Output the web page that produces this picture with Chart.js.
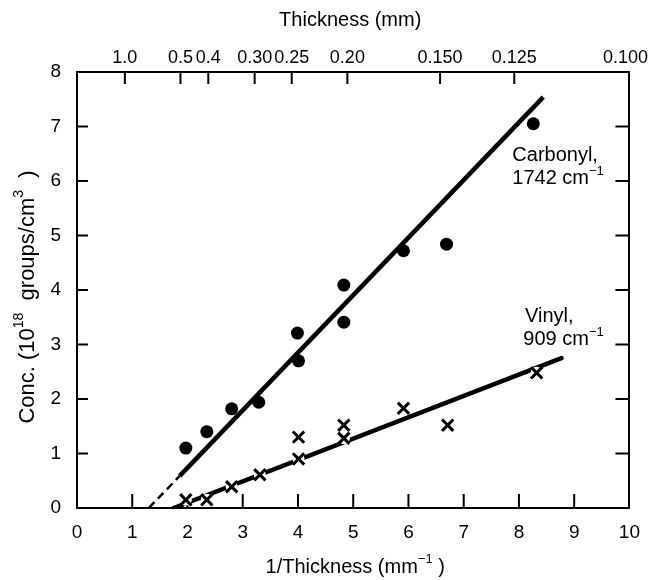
<!DOCTYPE html>
<html>
<head>
<meta charset="utf-8">
<script src="https://cdn.jsdelivr.net/npm/chart.js@4.4.1/dist/chart.umd.min.js"></script>
<style>
  html, body { margin: 0; padding: 0; background: #fff; }
  canvas { display: block; }
</style>
</head>
<body>
<canvas id="grafico" width="653" height="580"></canvas>
<script>
// Dados (x = 1/espessura em mm^-1, y = 10^18 grupos/cm^3)
const carbonilaX = [1.97, 2.35, 2.80, 3.29, 4.01, 3.99, 4.83, 4.83, 5.91, 6.69, 8.26];
const carbonilaY = [1.10, 1.40, 1.82, 1.94, 2.70, 3.21, 3.41, 4.09, 4.72, 4.84, 7.05];

const vinilaX = [1.97, 2.35, 2.80, 3.31, 4.01, 4.01, 4.83, 4.83, 5.91, 6.71, 8.32];
const vinilaY = [0.15, 0.15, 0.39, 0.61, 1.30, 0.90, 1.52, 1.28, 1.83, 1.52, 2.48];

// Retas ajustadas (extremos)
const carbonilaTracejadaX = [1.30, 1.86];
const carbonilaTracejadaY = [0.00, 0.59];
const carbonilaRetaX = [1.86, 8.44];
const carbonilaRetaY = [0.59, 7.54];
const vinilaRetaX = [1.75, 8.77];
const vinilaRetaY = [0.00, 2.75];

// Eixo superior: espessura (mm)
const espessuraTicks = [1.0, 0.5, 0.4, 0.30, 0.25, 0.20, 0.150, 0.125, 0.100];
const espessuraRotulos = ["1.0", "0.5", "0.4", "0.30", "0.25", "0.20", "0.150", "0.125", "0.100"];

const TINTA = "#000";
const FONTE = '"Liberation Sans", Arial, Helvetica, sans-serif';

const pontos = (xs, ys) => xs.map((x, i) => ({ x, y: ys[i] }));

// texto com sobrescritos: partes = [[texto, sobrescrito?], ...]
function textoRico(ctx, partes, x, y, tam, alinhar) {
    const larguras = partes.map(([t, sup]) => {
        ctx.font = `${sup ? Math.round(tam * 0.65) : tam}px ${FONTE}`;
        return ctx.measureText(t).width;
    });
    const total = larguras.reduce((a, b) => a + b, 0);
    let cx = alinhar === "center" ? x - total / 2 : x;
    ctx.textAlign = "left";
    ctx.textBaseline = "middle";
    partes.forEach(([t, sup], i) => {
        ctx.font = `${sup ? Math.round(tam * 0.65) : tam}px ${FONTE}`;
        ctx.fillText(t, cx, sup ? y - tam * 0.38 : y);
        cx += larguras[i];
    });
}

// marcas de escala voltadas para dentro + títulos e rótulos das curvas
const marcasInternas = {
    id: "marcasInternas",
    beforeDatasetsDraw(chart) {
        const { ctx, chartArea: a, scales } = chart;
        ctx.save();
        ctx.strokeStyle = TINTA;
        ctx.lineWidth = 2;
        ctx.beginPath();
        scales.x.ticks.forEach(t => {
            if (t.value <= 0 || t.value >= 10) return;
            const px = scales.x.getPixelForValue(t.value);
            ctx.moveTo(px, a.bottom);
            ctx.lineTo(px, a.bottom - 14);
        });
        scales.x2.ticks.forEach(t => {
            if (t.value >= 9.9) return;
            const px = scales.x2.getPixelForValue(t.value);
            ctx.moveTo(px, a.top);
            ctx.lineTo(px, a.top + 12);
        });
        scales.y.ticks.forEach(t => {
            if (t.value <= 0 || t.value >= 8) return;
            const py = scales.y.getPixelForValue(t.value);
            ctx.moveTo(a.left, py);
            ctx.lineTo(a.left + 11, py);
            ctx.moveTo(a.right, py);
            ctx.lineTo(a.right - 14, py);
        });
        ctx.stroke();
        ctx.restore();
    },
    afterDraw(chart) {
        const { ctx, chartArea: a, scales } = chart;
        const meio = (a.left + a.right) / 2;
        ctx.save();
        ctx.fillStyle = TINTA;
        textoRico(ctx, [["Thickness (mm)"]], meio - 3, 20, 20, "center");
        textoRico(ctx, [["1/Thickness (mm"], ["\u22121", true], [" )"]], meio + 2, 567, 20, "center");

        ctx.save();
        ctx.translate(28, 297);
        ctx.rotate(-Math.PI / 2);
        textoRico(ctx, [["Conc. (10"], ["18", true], ["  groups/cm"], ["3", true], ["  )"]], 0, 0, 22, "center");
        ctx.restore();

        const sx = v => scales.x.getPixelForValue(v);
        const sy = v => scales.y.getPixelForValue(v);
        textoRico(ctx, [["Carbonyl,"]], sx(7.88), sy(6.46), 20, "left");
        textoRico(ctx, [["1742 cm"], ["\u22121", true]], sx(7.88), sy(6.04), 20, "left");
        textoRico(ctx, [["Vinyl,"]], sx(8.11), sy(3.52), 20, "left");
        textoRico(ctx, [["909 cm"], ["\u22121", true]], sx(8.08), sy(3.09), 20, "left");
        ctx.restore();
    },
};

const eixoBase = {
    type: "linear",
    grid: { display: false, drawTicks: false },
    border: { display: true, color: TINTA, width: 2 },
};

new Chart(document.getElementById("grafico"), {
    type: "scatter",
    data: {
        datasets: [
            {
                label: "Carbonyl",
                data: pontos(carbonilaX, carbonilaY),
                pointStyle: "circle",
                pointRadius: 6.5,
                pointBackgroundColor: TINTA,
                pointBorderWidth: 0,
                order: 1,
            },
            {
                label: "Vinyl",
                data: pontos(vinilaX, vinilaY),
                pointStyle: "crossRot",
                pointRadius: 8,
                pointBorderColor: TINTA,
                pointBorderWidth: 3,
                order: 1,
            },
            {
                // "vazios" brancos sob os X, interrompendo a reta como no original
                label: "vinila-fundo",
                data: pontos(vinilaX, vinilaY),
                pointStyle: "circle",
                pointRadius: 6,
                pointBackgroundColor: "#fff",
                pointBorderWidth: 0,
                order: 2,
            },
            {
                label: "carbonila-reta",
                data: pontos(carbonilaRetaX, carbonilaRetaY),
                showLine: true,
                borderColor: TINTA,
                borderWidth: 4.5,
                pointRadius: 0,
                order: 3,
            },
            {
                label: "carbonila-extrapolada",
                data: pontos(carbonilaTracejadaX, carbonilaTracejadaY),
                showLine: true,
                borderColor: TINTA,
                borderWidth: 2.5,
                borderDash: [8, 5],
                pointRadius: 0,
                order: 3,
            },
            {
                label: "vinila-reta",
                data: pontos(vinilaRetaX, vinilaRetaY),
                showLine: true,
                borderColor: TINTA,
                borderWidth: 4.5,
                borderCapStyle: "round",
                pointRadius: 0,
                order: 3,
            },
        ],
    },
    options: {
        responsive: false,
        animation: false,
        devicePixelRatio: 1,
        layout: { padding: 0 },
        plugins: {
            legend: { display: false },
            tooltip: { enabled: false },
        },
        scales: {
            x: {
                ...eixoBase,
                position: "bottom",
                min: 0, max: 10,
                ticks: { stepSize: 1, color: TINTA, font: { family: FONTE, size: 19 }, padding: 13, maxRotation: 0 },
                afterFit: s => { s.height = 72; },
            },
            x2: {
                ...eixoBase,
                position: "top",
                min: 0.14, max: 10.07,
                afterBuildTicks: s => { s.ticks = espessuraTicks.map(t => ({ value: 1 / t })); },
                ticks: {
                    color: TINTA,
                    font: { family: FONTE, size: 18 },
                    padding: 3,
                    autoSkip: false,
                    maxRotation: 0,
                    callback: (v, i) => espessuraRotulos[i],
                },
                afterFit: s => { s.height = 72; },
            },
            y: {
                ...eixoBase,
                position: "left",
                min: 0, max: 8,
                ticks: { stepSize: 1, color: TINTA, font: { family: FONTE, size: 19 }, padding: 16 },
                afterFit: s => { s.width = 77; },
            },
            y2: {
                ...eixoBase,
                position: "right",
                min: 0, max: 8,
                ticks: { stepSize: 1, display: false },
                afterFit: s => { s.width = 23; },
            },
        },
    },
    plugins: [marcasInternas],
});
</script>
</body>
</html>
